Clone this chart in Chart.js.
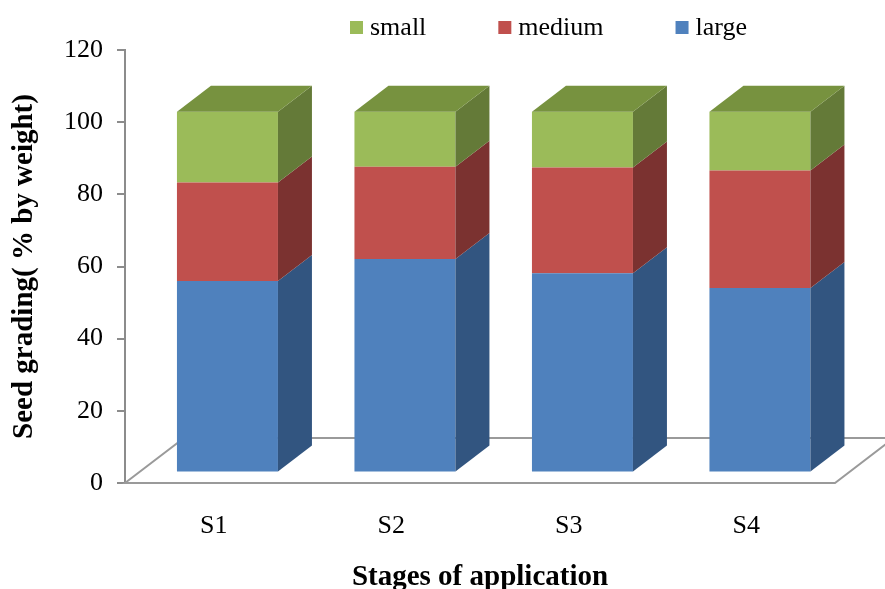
<!DOCTYPE html>
<html>
<head>
<meta charset="utf-8">
<script src="https://cdn.jsdelivr.net/npm/chart.js@4.4.1/dist/chart.umd.min.js"></script>
<style>
  html, body { margin: 0; padding: 0; background: #fff; }
</style>
</head>
<body>
<canvas id="gradingChart" width="885" height="589"></canvas>
<script>
// seed grading per stage, % by weight
const stages = ['S1', 'S2', 'S3', 'S4'];
const largeSeed = [53.1, 59.2, 55.2, 51.1];
const mediumSeed = [27.3, 25.5, 29.3, 32.6];
const smallSeed = [19.6, 15.3, 15.5, 16.3];

const frontColors = ['#4f81bd', '#c0504d', '#9bbb59'];
const sideColors = ['#325580', '#7b3230', '#647a38'];
const topColors = ['#3f6796', '#98403d', '#77923f'];

const axisGrey = '#8c8c8c';
const serif = "'Liberation Serif', 'Times New Roman', serif";

// fake 3d: bars sit a bit back on the floor, depth drawn as side + top faces
const barShift = { x: 13.7, y: -10.5 };
const barDepth = { x: 34, y: -26 };
const floorDepth = { x: 59, y: -45 };

const fake3d = {
    id: 'fake3d',
    beforeDatasetsDraw(chart) {
        const ctx = chart.ctx;
        const a = chart.chartArea;
        // floor outline
        ctx.save();
        ctx.strokeStyle = '#9a9a9a';
        ctx.lineWidth = 2;
        ctx.beginPath();
        ctx.moveTo(a.left, a.bottom);
        ctx.lineTo(a.left + floorDepth.x, a.bottom + floorDepth.y);
        ctx.lineTo(a.right + floorDepth.x, a.bottom + floorDepth.y);
        ctx.lineTo(a.right, a.bottom);
        ctx.closePath();
        ctx.stroke();
        ctx.restore();

        ctx.save();
        ctx.translate(barShift.x, barShift.y);
    },
    afterDatasetsDraw(chart) {
        const ctx = chart.ctx;
        const last = chart.data.datasets.length - 1;
        chart.data.datasets.forEach((ds, i) => {
            chart.getDatasetMeta(i).data.forEach(bar => {
                const l = bar.x - bar.width / 2;
                const r = bar.x + bar.width / 2;
                ctx.fillStyle = sideColors[i];
                ctx.beginPath();
                ctx.moveTo(r, bar.y);
                ctx.lineTo(r + barDepth.x, bar.y + barDepth.y);
                ctx.lineTo(r + barDepth.x, bar.base + barDepth.y);
                ctx.lineTo(r, bar.base);
                ctx.closePath();
                ctx.fill();
                if (i === last) {
                    ctx.fillStyle = topColors[i];
                    ctx.beginPath();
                    ctx.moveTo(l, bar.y);
                    ctx.lineTo(l + barDepth.x, bar.y + barDepth.y);
                    ctx.lineTo(r + barDepth.x, bar.y + barDepth.y);
                    ctx.lineTo(r, bar.y);
                    ctx.closePath();
                    ctx.fill();
                }
            });
        });
        ctx.restore();
    }
};

// legend across the top, top series first
const topLegend = {
    id: 'topLegend',
    afterDraw(chart) {
        const ctx = chart.ctx;
        ctx.save();
        ctx.font = '26px ' + serif;
        ctx.textBaseline = 'middle';
        let x = 350;
        const y = 28;
        for (let i = chart.data.datasets.length - 1; i >= 0; i--) {
            const ds = chart.data.datasets[i];
            ctx.fillStyle = ds.backgroundColor;
            ctx.fillRect(x, y - 7, 13, 13);
            ctx.fillStyle = '#000';
            ctx.fillText(ds.label, x + 20, y);
            x += 20 + ctx.measureText(ds.label).width + 72;
        }
        ctx.restore();
    }
};

const ctx = document.getElementById('gradingChart').getContext('2d');
const gradingChart = new Chart(ctx, {
    type: 'bar',
    data: {
        labels: stages,
        datasets: [
            { label: 'large', data: largeSeed, backgroundColor: frontColors[0] },
            { label: 'medium', data: mediumSeed, backgroundColor: frontColors[1] },
            { label: 'small', data: smallSeed, backgroundColor: frontColors[2] }
        ]
    },
    options: {
        responsive: false,
        animation: false,
        layout: { padding: { top: 50, right: 50, left: 0, bottom: 0 } },
        datasets: {
            bar: { barPercentage: 0.569, categoryPercentage: 1, borderWidth: 0 }
        },
        plugins: {
            legend: { display: false },
            tooltip: { enabled: false }
        },
        scales: {
            x: {
                stacked: true,
                grid: { display: false },
                border: { display: false },
                ticks: { color: '#000', font: { family: serif, size: 26 }, padding: 20 },
                title: {
                    display: true,
                    text: 'Stages of application',
                    color: '#000',
                    font: { family: serif, size: 29, weight: 'bold', lineHeight: 0.8 },
                    padding: { top: 0, bottom: 0 }
                },
                afterFit(scale) { scale.height = 106; }
            },
            y: {
                stacked: true,
                min: 0,
                max: 120,
                ticks: { stepSize: 20, color: '#000', font: { family: serif, size: 26 }, padding: 14 },
                grid: { drawOnChartArea: false, drawTicks: true, tickLength: 8, color: axisGrey, lineWidth: 2 },
                border: { display: true, color: axisGrey, width: 2 },
                title: {
                    display: true,
                    text: 'Seed grading( % by weight)',
                    color: '#000',
                    font: { family: serif, size: 29, weight: 'bold', lineHeight: 1 },
                    padding: { top: 10, bottom: 0 }
                },
                afterFit(scale) { scale.width = 125; }
            }
        }
    },
    plugins: [fake3d, topLegend]
});
</script>
</body>
</html>
